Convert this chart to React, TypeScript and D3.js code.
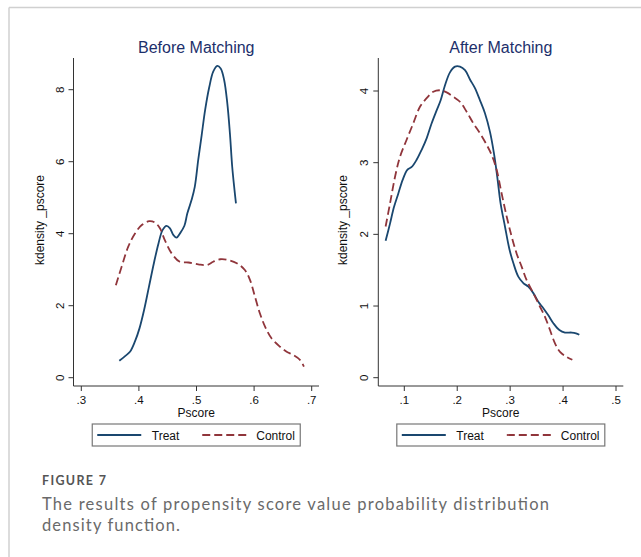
import React from 'react';
import * as d3 from 'd3';

// kdensity of pscore
const beforeTreat: [number, number][] = [
  [0.366, 0.47], [0.376, 0.6], [0.3845, 0.72], [0.393, 1.0], [0.401, 1.37], [0.409, 1.88],
  [0.4175, 2.53], [0.426, 3.18], [0.434, 3.73], [0.441, 4.1], [0.448, 4.22], [0.454, 4.15],
  [0.46, 3.96], [0.4655, 3.89], [0.471, 4.0], [0.479, 4.22], [0.484, 4.56], [0.4915, 4.94],
  [0.497, 5.3], [0.503, 6.05], [0.509, 6.74], [0.515, 7.44], [0.522, 8.06], [0.529, 8.5],
  [0.536, 8.66], [0.542, 8.59], [0.548, 8.27], [0.5535, 7.62], [0.558, 6.79], [0.562, 5.86],
  [0.566, 5.21], [0.5685, 4.84],
];
const beforeControl: [number, number][] = [
  [0.36, 2.57], [0.37, 3.08], [0.3815, 3.64], [0.393, 4.0], [0.405, 4.24], [0.418, 4.35],
  [0.428, 4.31], [0.4365, 4.15], [0.445, 3.82], [0.457, 3.45], [0.471, 3.22], [0.486, 3.2],
  [0.503, 3.15], [0.518, 3.13], [0.529, 3.22], [0.541, 3.29], [0.555, 3.27], [0.57, 3.18],
  [0.584, 2.99], [0.593, 2.71], [0.6015, 2.25], [0.61, 1.79], [0.619, 1.42], [0.6305, 1.09],
  [0.645, 0.86], [0.6565, 0.72], [0.668, 0.63], [0.68, 0.49], [0.6865, 0.31],
];
const afterTreat: [number, number][] = [
  [0.0647, 1.91], [0.073, 2.15], [0.0805, 2.38], [0.0887, 2.57], [0.0969, 2.76], [0.1057, 2.9],
  [0.114, 2.94], [0.1233, 3.04], [0.1328, 3.18], [0.1422, 3.34], [0.1517, 3.55], [0.1611, 3.73],
  [0.1687, 3.87], [0.1769, 4.08], [0.1863, 4.26], [0.1958, 4.34], [0.2052, 4.34], [0.2147, 4.29],
  [0.2241, 4.16], [0.2335, 4.04], [0.243, 3.87], [0.2524, 3.69], [0.2619, 3.43], [0.2694, 3.13],
  [0.2757, 2.8], [0.282, 2.43], [0.2902, 2.11], [0.2984, 1.8], [0.306, 1.6], [0.3154, 1.41],
  [0.3249, 1.32], [0.3343, 1.27], [0.3438, 1.18], [0.3532, 1.06], [0.3627, 0.97], [0.3721, 0.87],
  [0.3816, 0.76], [0.393, 0.665], [0.4036, 0.63], [0.4162, 0.63], [0.4244, 0.62], [0.4307, 0.6],
];
const afterControl: [number, number][] = [
  [0.0647, 2.11], [0.073, 2.43], [0.0824, 2.8], [0.0918, 3.08], [0.1044, 3.32], [0.117, 3.55],
  [0.1296, 3.78], [0.1422, 3.9], [0.1548, 3.99], [0.1674, 4.01], [0.18, 3.98], [0.1926, 3.92],
  [0.2052, 3.85], [0.2178, 3.71], [0.2304, 3.55], [0.243, 3.41], [0.2556, 3.25], [0.265, 3.11],
  [0.2745, 2.9], [0.2839, 2.57], [0.2934, 2.25], [0.3028, 1.97], [0.3123, 1.73], [0.3217, 1.55],
  [0.3312, 1.36], [0.3438, 1.18], [0.3564, 0.99], [0.3658, 0.85], [0.3753, 0.665], [0.3847, 0.48],
  [0.3942, 0.36], [0.4068, 0.29], [0.4175, 0.25],
];

const beforeXTicks = [0.3, 0.4, 0.5, 0.6, 0.7];
const beforeYTicks = [0, 2, 4, 6, 8];
const afterXTicks = [0.1, 0.2, 0.3, 0.4, 0.5];
const afterYTicks = [0, 1, 2, 3, 4];
const seriesNames = ['Treat', 'Control'];

const BLUE = '#1a476f';
const RED = '#90353b';
const FONT = '"Liberation Sans", Arial, sans-serif';

const fmtX = (v: number) => d3.format('.1f')(v).replace(/^0/, '');

function Panel({ title, treat, control, xTicks, yTicks, x0, x1, y0, y1, left, right, yLabelX, yTickX }: any) {
  const x = d3.scaleLinear().domain([xTicks[0], xTicks[xTicks.length - 1]]).range([x0, x1]);
  const y = d3.scaleLinear().domain([yTicks[0], yTicks[yTicks.length - 1]]).range([y0, y1]);
  const line = d3.line<[number, number]>().x(d => x(d[0])).y(d => y(d[1])).curve(d3.curveCatmullRom);
  const top = 58, bottom = 386;
  const mid = (left + right) / 2;
  const legL = mid - 104, legR = mid + 104;
  return (
    <g fontFamily={FONT}>
      <text x={mid} y={53} textAnchor="middle" fontSize={16} fill="#1c2f6b">{title}</text>
      <line x1={left} x2={left} y1={top} y2={bottom} stroke="#333" strokeWidth={1} />
      <line x1={left} x2={right} y1={bottom} y2={bottom} stroke="#333" strokeWidth={1} />
      {yTicks.map((t: number) => (
        <g key={'y' + t}>
          <line x1={left - 5} x2={left} y1={y(t)} y2={y(t)} stroke="#333" />
          <text transform={`translate(${yTickX},${y(t)}) rotate(-90)`} textAnchor="middle" fontSize={11.5} fill="#111">{t}</text>
        </g>
      ))}
      {xTicks.map((t: number) => (
        <g key={'x' + t}>
          <line x1={x(t)} x2={x(t)} y1={bottom} y2={bottom + 5} stroke="#333" />
          <text x={x(t)} y={403.5} textAnchor="middle" fontSize={11.5} fill="#111">{fmtX(t)}</text>
        </g>
      ))}
      <text x={mid} y={416.5} textAnchor="middle" fontSize={12} fill="#111">Pscore</text>
      <text transform={`translate(${yLabelX},${(top + bottom) / 2 - 2}) rotate(-90)`} textAnchor="middle" fontSize={12} fill="#111">kdensity _pscore</text>
      <path d={line(treat) || ''} fill="none" stroke={BLUE} strokeWidth={1.8} />
      <path d={line(control) || ''} fill="none" stroke={RED} strokeWidth={1.8} strokeDasharray="8,4" />
      <rect x={legL} y={424} width={legR - legL} height={22} fill="#fff" stroke="#777" strokeWidth={1.2} />
      <line x1={legL + 5} x2={legL + 49} y1={435} y2={435} stroke={BLUE} strokeWidth={1.8} />
      <text x={legL + 59.5} y={439.5} fontSize={12} fill="#111">{seriesNames[0]}</text>
      <line x1={legL + 110} x2={legL + 154} y1={435} y2={435} stroke={RED} strokeWidth={1.8} strokeDasharray="8,4" />
      <text x={legL + 164} y={439.5} fontSize={12} fill="#111">{seriesNames[1]}</text>
    </g>
  );
}

export default function App() {
  return (
    <svg width={641} height={557} style={{ position: 'absolute', left: 0, top: 0, background: '#fff' }}>
      <rect x={0} y={0} width={641} height={557} fill="#fff" />
      <line x1={9} x2={641} y1={7.5} y2={7.5} stroke="#d0d0d0" strokeWidth={1.5} />
      <line x1={9} x2={9} y1={7.5} y2={557} stroke="#d0d0d0" strokeWidth={1.5} />
      <Panel title="Before Matching" treat={beforeTreat} control={beforeControl}
        xTicks={beforeXTicks} yTicks={beforeYTicks} x0={81.3} x1={311.7} y0={377.7} y1={89.7}
        left={73.5} right={319} yLabelX={43.5} yTickX={63.5} />
      <Panel title="After Matching" treat={afterTreat} control={afterControl}
        xTicks={afterXTicks} yTicks={afterYTicks} x0={404.3} x1={616} y0={377.7} y1={91}
        left={378.3} right={623.3} yLabelX={347} yTickX={368} />
      <g fontFamily='Lato, "Open Sans", sans-serif'>
        <text x={42} y={485} fontSize={12.5} fontWeight={700} textLength={64} lengthAdjust="spacing" fill="#555">FIGURE 7</text>
        <text x={42} y={510} fontSize={16.5} textLength={507} lengthAdjust="spacing" fill="#6a6a6a">The results of propensity score value probability distribution</text>
        <text x={42} y={530.5} fontSize={16.5} textLength={138} lengthAdjust="spacing" fill="#6a6a6a">density function.</text>
      </g>
    </svg>
  );
}
